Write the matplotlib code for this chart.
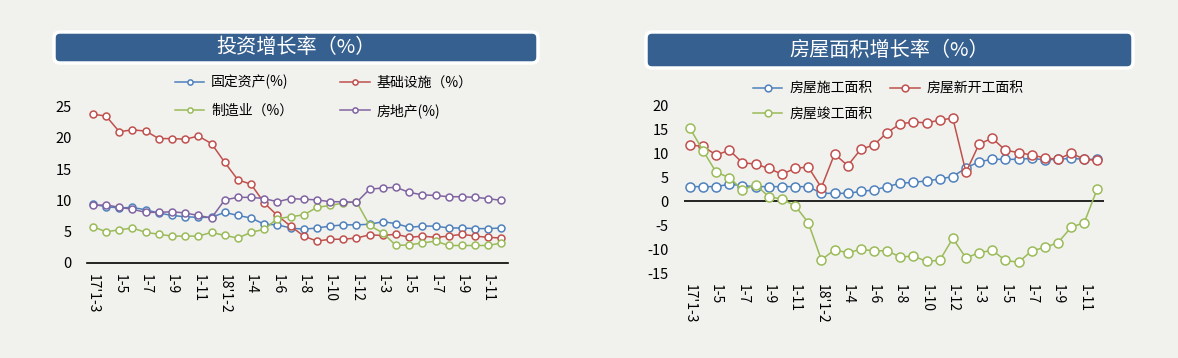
import numpy as np
import matplotlib
matplotlib.use("Agg")
import matplotlib.pyplot as plt
from matplotlib.patches import FancyBboxPatch
from matplotlib.transforms import IdentityTransform

plt.rcParams['font.family'] = ['Noto Sans CJK SC', 'DejaVu Sans']
plt.rcParams['axes.unicode_minus'] = False

# 横轴标签（每两期标一个）
tick_labels = ["17'1-3", "1-5", "1-7", "1-9", "1-11", "18'1-2", "1-4", "1-6",
               "1-8", "1-10", "1-12", "1-3", "1-5", "1-7", "1-9", "1-11"]

# 投资增长率
fixed_asset = [9.4, 9.0, 8.8, 8.9, 8.5, 8.0, 7.6, 7.4, 7.3, 7.3,
               8.1, 7.6, 7.2, 6.2, 6.1, 5.6, 5.4, 5.6, 5.9, 6.1, 6.1,
               6.2, 6.6, 6.3, 5.7, 5.9, 5.9, 5.6, 5.6, 5.5, 5.5, 5.6]
infrastructure = [23.8, 23.5, 21.0, 21.3, 21.1, 19.9, 19.9, 19.8, 20.3, 19.1,
                  16.1, 13.3, 12.6, 9.6, 7.6, 5.9, 4.3, 3.5, 3.8, 3.8, 4.0,
                  4.5, 4.4, 4.6, 4.1, 4.3, 4.1, 4.3, 4.6, 4.3, 4.1, 4.0]
manufacturing = [5.8, 5.0, 5.3, 5.6, 4.9, 4.6, 4.3, 4.3, 4.3, 4.9,
                 4.4, 4.0, 4.9, 5.4, 7.1, 7.4, 7.7, 8.9, 9.2, 9.6, 9.8,
                 6.0, 4.8, 2.8, 2.9, 3.2, 3.5, 2.8, 2.8, 2.8, 2.8, 3.2]
real_estate = [9.2, 9.3, 8.9, 8.6, 8.1, 8.1, 8.2, 8.0, 7.6, 7.2,
               10.1, 10.5, 10.5, 10.3, 9.8, 10.3, 10.2, 10.1, 9.8, 9.8, 9.7,
               11.8, 12.0, 12.1, 11.3, 10.9, 10.8, 10.6, 10.6, 10.5, 10.3, 10.0]

# 房屋面积增长率
under_construction = [3.1, 3.1, 3.1, 3.6, 3.3, 3.1, 3.1, 3.1, 3.1, 3.1,
                      1.7, 1.7, 1.7, 2.1, 2.4, 3.1, 3.8, 4.0, 4.3, 4.7, 5.2,
                      7.0, 8.3, 8.8, 8.8, 8.8, 9.0, 8.7, 8.8, 9.0, 8.8, 8.8]
new_start = [11.8, 11.5, 9.7, 10.7, 8.1, 7.8, 6.9, 5.7, 6.9, 7.2,
             2.9, 9.9, 7.5, 10.9, 11.8, 14.4, 16.2, 16.6, 16.4, 17.0, 17.4,
             6.1, 12.0, 13.2, 10.7, 10.2, 9.7, 9.1, 8.8, 10.1, 8.8, 8.6]
completed = [15.3, 10.6, 6.1, 5.0, 2.4, 3.5, 1.0, 0.5, -0.9, -4.4,
             -12.2, -10.1, -10.7, -10.0, -10.3, -10.3, -11.6, -11.4, -12.5, -12.3, -7.7,
             -11.8, -10.7, -10.2, -12.3, -12.7, -10.3, -9.6, -8.6, -5.4, -4.4, 2.7]

BLUE, RED, GREEN, PURPLE = '#4F81BD', '#C0504D', '#9BBB59', '#8064A2'
BG = '#f1f2ee'

fig = plt.figure(figsize=(11.78, 3.58), dpi=100, facecolor=BG)
W, H = 1178, 358


def ax_rect(x0, x1, ytop, ybot):
    return [x0 / W, 1 - ybot / H, (x1 - x0) / W, (ybot - ytop) / H]


def title_box(x0, x1, ytop, ybot, text):
    box = FancyBboxPatch((x0, H - ybot), x1 - x0, ybot - ytop,
                         boxstyle="round,pad=0,rounding_size=6",
                         facecolor='#36608f', edgecolor='white', linewidth=2.5,
                         transform=IdentityTransform())
    fig.add_artist(box)
    fig.text((x0 + x1) / 2 / W, 1 - (ytop + ybot) / 2 / H, text,
             color='white', fontsize=14.5, ha='center', va='center')


def style_axes(ax, n):
    ax.set_facecolor('none')
    for s in ax.spines.values():
        s.set_visible(False)
    ax.set_xlim(-0.45, n - 0.5)
    ax.set_xticks(np.arange(0, n, 2))
    ax.set_xticklabels(tick_labels, rotation=270, fontsize=10)
    ax.tick_params(axis='x', length=0, pad=8)
    ax.tick_params(axis='y', length=0, pad=11, labelsize=10.5)


x = np.arange(len(fixed_asset))

# 左图
title_box(54, 538, 32, 63, '投资增长率（%）')
ax1 = fig.add_axes(ax_rect(87, 508, 106.7, 263))
style_axes(ax1, len(x))
ax1.set_ylim(0, 25)
ax1.set_yticks([0, 5, 10, 15, 20, 25])
ax1.axhline(0, color='black', lw=1.2, clip_on=False)
series1 = [(fixed_asset, BLUE, '固定资产(%)'), (infrastructure, RED, '基础设施（%）'),
           (manufacturing, GREEN, '制造业（%）'), (real_estate, PURPLE, '房地产(%)')]
lines1 = []
for vals, c, lab in series1:
    ln, = ax1.plot(x, vals, color=c, lw=1.1, marker='o', ms=5, mfc='white',
                   mec=c, mew=1.1, label=lab, clip_on=False)
    lines1.append(ln)
# 按行排列图例
order1 = [0, 2, 1, 3]
ax1.legend([lines1[i] for i in order1], [series1[i][2] for i in order1],
           ncol=2, loc='upper left', bbox_to_anchor=(175 / W, 1 - 75 / H),
           bbox_transform=fig.transFigure, frameon=False, fontsize=10,
           borderpad=0, borderaxespad=0, handlelength=2.1, handletextpad=0.5,
           columnspacing=3.4, labelspacing=1.0, markerscale=0.75)

# 右图
title_box(646, 1133, 32, 68, '房屋面积增长率（%）')
ax2 = fig.add_axes(ax_rect(684, 1104, 105.7, 273.3))
style_axes(ax2, len(x))
ax2.set_ylim(-15, 20)
ax2.set_yticks(np.arange(-15, 21, 5))
ax2.axhline(0, color='black', lw=1.2)
series2 = [(under_construction, BLUE, '房屋施工面积'), (new_start, RED, '房屋新开工面积'),
           (completed, GREEN, '房屋竣工面积')]
lines2 = []
for vals, c, lab in series2:
    ln, = ax2.plot(x, vals, color=c, lw=1.1, marker='o', ms=6.5, mfc='white',
                   mec=c, mew=1.1, label=lab, clip_on=False)
    lines2.append(ln)
order2 = [0, 2, 1]
ax2.legend([lines2[i] for i in order2], [series2[i][2] for i in order2],
           ncol=2, loc='upper left', bbox_to_anchor=(753 / W, 1 - 82 / H),
           bbox_transform=fig.transFigure, frameon=False, fontsize=10,
           borderpad=0, borderaxespad=0, handlelength=2.1, handletextpad=0.5,
           columnspacing=1.3, labelspacing=0.8, markerscale=0.75)

fig.savefig('out.png', dpi=100, facecolor=BG)
